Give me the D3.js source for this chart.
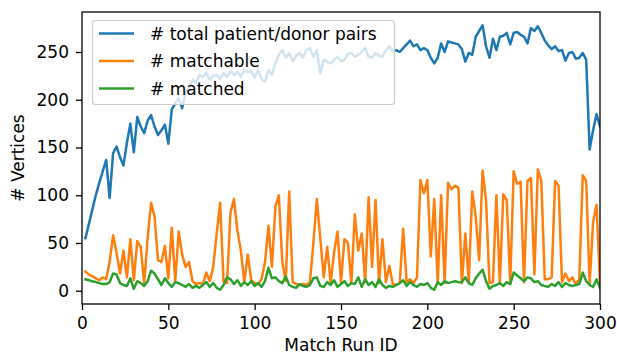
<!DOCTYPE html>
<html>
<head>
<meta charset="utf-8">
<script src="https://cdn.jsdelivr.net/npm/d3@7"></script>
<style>
  body { margin: 0; background: #fff; }
  svg text { font-family: "DejaVu Sans", sans-serif; fill: #000; }
</style>
</head>
<body>
<svg width="617" height="355"></svg>
<script>
// match run ids, one value every 2 runs
var runIds = d3.range(2, 301, 2);

var totalPairs = [55,70,85,100,113,125,137,97,144,151,140,131,155,175,145,182,172,165,178,184,
  172,163,168,174,154,190,196,202,191,208,212,221,218,226,224,228,221,225,226,222,
  228,224,230,226,229,224,231,229,230,223,231,222,219,231,226,238,247,252,244,249,
  240,246,249,244,252,254,245,252,228,242,240,238,242,245,240,242,248,249,245,247,
  250,254,245,244,249,246,245,252,256,251,252,250,254,258,262,256,258,252,254,252,
  244,238,244,259,250,261,260,259,258,253,240,249,247,266,272,278,256,244,264,252,
  266,267,270,258,270,271,268,266,259,275,272,277,270,262,257,253,256,251,252,241,
  249,250,243,244,249,242,148,168,185,172];

var matchable = [20,17,15,13,11,14,12,30,58,40,18,42,14,54,11,52,46,8,55,92,
  78,32,30,47,13,66,10,62,38,25,30,10,7,8,7,19,10,25,60,92,
  9,8,82,96,63,42,9,38,11,8,7,12,30,68,25,88,100,30,10,104,
  9,7,6,7,6,9,50,96,55,14,46,8,40,62,9,54,50,8,80,42,
  60,9,98,25,95,8,54,9,26,7,6,8,65,9,12,8,14,116,102,116,
  36,96,8,100,8,113,106,110,108,8,60,9,104,78,32,126,95,8,9,100,
  8,101,95,8,125,112,114,9,115,118,17,127,115,12,12,14,115,110,9,18,
  10,14,7,12,121,115,7,72,90,7];

var matched = [12,11,10,9,8,7,7,9,18,17,8,6,5,13,2,10,8,5,10,21,
  18,12,6,13,8,4,9,8,6,4,7,3,5,3,6,9,4,8,3,1,
  6,14,12,7,11,5,9,6,10,5,8,4,10,24,13,14,10,8,15,6,
  4,3,7,5,4,6,13,14,5,4,9,6,11,4,7,10,5,8,7,14,
  4,12,6,9,4,12,6,3,5,4,6,8,11,5,9,6,4,7,6,8,
  3,1,9,6,10,8,9,10,9,9,14,8,6,13,18,22,10,2,5,6,
  8,5,9,7,19,16,13,10,14,13,9,10,6,5,4,7,5,9,4,8,
  6,5,6,7,19,10,6,4,12,3];

var seriesNames = ["# total patient/donor pairs", "# matchable", "# matched"];
var seriesColors = ["#1f77b4", "#ff7f0e", "#2ca02c"];
var allSeries = [totalPairs, matchable, matched];

var xTicks = [0, 50, 100, 150, 200, 250, 300];
var yTicks = [0, 50, 100, 150, 200, 250];

var svg = d3.select("svg");
var plotLeft = 82, plotRight = 600, plotTop = 12, plotBottom = 304;

var x = d3.scaleLinear().domain([0, 300]).range([plotLeft, plotRight]);
var y = d3.scaleLinear().domain([-13.9, 291.9]).range([plotBottom, plotTop]);

svg.append("clipPath").attr("id", "clip")
  .append("rect")
  .attr("x", plotLeft).attr("y", plotTop)
  .attr("width", plotRight - plotLeft).attr("height", plotBottom - plotTop);

var line = d3.line()
  .x(function(d, i) { return x(runIds[i]); })
  .y(function(d) { return y(d); });

svg.append("g").attr("clip-path", "url(#clip)")
  .selectAll("path")
  .data(allSeries)
  .join("path")
  .attr("d", line)
  .style("fill", "none")
  .style("stroke", function(d, i) { return seriesColors[i]; })
  .style("stroke-width", "2.5px")
  .style("stroke-linejoin", "round")
  .style("stroke-linecap", "square");

// axes
var xAxis = svg.append("g")
  .attr("transform", "translate(0," + plotBottom + ")")
  .call(d3.axisBottom(x).tickValues(xTicks).tickSize(6).tickPadding(7).tickSizeOuter(0));
var yAxis = svg.append("g")
  .attr("transform", "translate(" + plotLeft + ",0)")
  .call(d3.axisLeft(y).tickValues(yTicks).tickSize(6).tickPadding(7).tickSizeOuter(0));

[xAxis, yAxis].forEach(function(a) {
  a.select(".domain").remove();
  a.selectAll("line").style("stroke", "#000").style("stroke-width", "1.3px");
  a.selectAll("text").style("font-size", "17px").attr("fill", "#000");
});

// frame
svg.append("rect")
  .attr("x", plotLeft).attr("y", plotTop)
  .attr("width", plotRight - plotLeft).attr("height", plotBottom - plotTop)
  .style("fill", "none")
  .style("stroke", "#000")
  .style("stroke-width", "1.3px");

svg.append("text")
  .attr("x", (plotLeft + plotRight) / 2)
  .attr("y", 351)
  .attr("text-anchor", "middle")
  .style("font-size", "17px")
  .text("Match Run ID");

svg.append("text")
  .attr("transform", "translate(24," + ((plotTop + plotBottom) / 2) + ") rotate(-90)")
  .attr("text-anchor", "middle")
  .style("font-size", "17px")
  .text("# Vertices");

// legend
var legend = svg.append("g");
legend.append("rect")
  .attr("x", 92.5).attr("y", 20.5)
  .attr("width", 302).attr("height", 84)
  .attr("rx", 3)
  .style("fill", "#fff")
  .style("fill-opacity", 0.8)
  .style("stroke", "#ccc")
  .style("stroke-width", "1.2px");

var rows = legend.selectAll("g.row")
  .data(seriesNames)
  .join("g")
  .attr("class", "row")
  .attr("transform", function(d, i) { return "translate(0," + (33.5 + i * 27.5) + ")"; });

rows.append("line")
  .attr("x1", 99).attr("x2", 134)
  .style("stroke", function(d, i) { return seriesColors[i]; })
  .style("stroke-width", "2.5px");

rows.append("text")
  .attr("x", 150)
  .attr("dy", "0.36em")
  .style("font-size", "17px")
  .text(function(d) { return d; });
</script>
</body>
</html>
